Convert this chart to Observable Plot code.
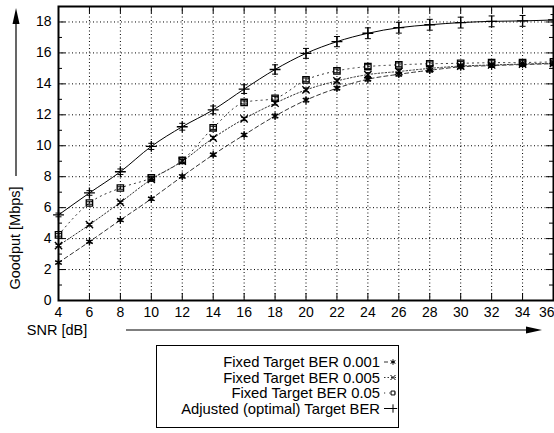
<!DOCTYPE html>
<html>
<head>
<meta charset="utf-8">
<script src="https://cdn.jsdelivr.net/npm/d3@7"></script>
<script src="https://cdn.jsdelivr.net/npm/@observablehq/plot@0.6"></script>
<style>
  html, body { margin: 0; padding: 0; background: white; }
  #wrap { position: relative; width: 554px; height: 433px; font-family: "Liberation Sans", Arial, sans-serif; }
  #legend { position: absolute; left: 156px; top: 345px; width: 243px; height: 83px; box-sizing: border-box; border: 1px solid black; background: white; }
</style>
</head>
<body>
<div id="wrap"><div id="chart"></div><div id="legend"></div></div>
<script>
const snr = [4, 6, 8, 10, 12, 14, 16, 18, 20, 22, 24, 26, 28, 30, 32, 34, 36];
const ber001 = [2.45, 3.8, 5.2, 6.57, 8.02, 9.42, 10.7, 11.92, 12.95, 13.72, 14.3, 14.62, 14.88, 15.1, 15.18, 15.25, 15.3];
const ber005 = [3.55, 4.9, 6.34, 7.83, 9.0, 10.5, 11.74, 12.75, 13.61, 14.19, 14.6, 14.8, 15.0, 15.15, 15.22, 15.28, 15.33];
const ber05  = [4.24, 6.3, 7.27, 7.92, 9.05, 11.16, 12.8, 13.07, 14.26, 14.84, 15.12, 15.23, 15.3, 15.33, 15.37, 15.38, 15.42];
const adjusted = [5.53, 6.95, 8.32, 9.96, 11.23, 12.32, 13.66, 14.93, 15.97, 16.73, 17.27, 17.63, 17.82, 17.96, 18.04, 18.07, 18.13];
const adjErr = [0.12, 0.15, 0.18, 0.2, 0.22, 0.25, 0.28, 0.3, 0.32, 0.33, 0.35, 0.35, 0.35, 0.35, 0.35, 0.35, 0.35];
const fixedErr = [0.08, 0.08, 0.08, 0.1, 0.1, 0.1, 0.1, 0.12, 0.12, 0.12, 0.12, 0.12, 0.12, 0.12, 0.12, 0.12, 0.12];
const seriesNames = ["Fixed Target BER 0.001", "Fixed Target BER 0.005", "Fixed Target BER 0.05", "Adjusted (optimal) Target BER"];
const xTicks = [4, 6, 8, 10, 12, 14, 16, 18, 20, 22, 24, 26, 28, 30, 32, 34, 36];
const yTicks = [0, 2, 4, 6, 8, 10, 12, 14, 16, 18];
const yMinor = [1, 3, 5, 7, 9, 11, 13, 15, 17];

const seriesValues = [ber001, ber005, ber05, adjusted];
const seriesErr = [fixedErr, fixedErr, fixedErr, adjErr];
const styles = [
  {dash: "4,3", symbol: "asterisk", r: 3.6, lr: 2.6},
  {dash: "1.5,2", symbol: "times", r: 3.4, lr: 2.4},
  {dash: "1.2,4", symbol: "square", r: 3.6, lr: 2.2},
  {dash: null, symbol: "plus", r: 3.6, lr: 2.8}
];

const rows = [];
seriesNames.forEach((name, i) => {
  snr.forEach((s, j) => rows.push({series: name, snr: s, goodput: seriesValues[i][j], err: seriesErr[i][j]}));
});

const hbar = {draw(ctx, size) { const r = Math.sqrt(size / Math.PI); ctx.moveTo(-r, 0); ctx.lineTo(r, 0); }};

const W = 554, H = 345, mL = 58, mR = 1, mT = 6, mB = 45;
const innerH = H - mT - mB, innerW = W - mL - mR;

const marks = [
  Plot.ruleX(xTicks.slice(1, -1), {x: d => d, stroke: "black", strokeWidth: 1, strokeDasharray: "1,2.5"}),
  Plot.ruleY(yTicks.slice(1), {y: d => d, stroke: "black", strokeWidth: 1, strokeDasharray: "1,2.5"}),
  Plot.tickX(xTicks, {x: d => d, insetTop: innerH - 7, stroke: "black"}),
  Plot.tickX(xTicks, {x: d => d, insetBottom: innerH - 7, stroke: "black"}),
  Plot.tickY(yTicks, {y: d => d, insetRight: innerW - 7, stroke: "black"}),
  Plot.tickY(yTicks, {y: d => d, insetLeft: innerW - 7, stroke: "black"}),
  Plot.tickY(yMinor, {y: d => d, insetRight: innerW - 4, stroke: "black"}),
  Plot.tickY(yMinor, {y: d => d, insetLeft: innerW - 4, stroke: "black"}),
  Plot.axisX(xTicks, {tickSize: 0, tickPadding: 7, fontSize: 14, label: null}),
  Plot.axisY(yTicks, {tickSize: 0, tickPadding: 7, fontSize: 14, label: null})
];

seriesNames.forEach((name, i) => {
  const data = rows.filter(d => d.series === name);
  const st = styles[i];
  marks.push(Plot.line(data, {x: "snr", y: "goodput", stroke: i === 3 ? "black" : "#333", strokeWidth: 1, strokeDasharray: st.dash, curve: "monotone-x"}));
  marks.push(Plot.ruleX(data, {x: "snr", y1: d => d.goodput - d.err, y2: d => d.goodput + d.err, stroke: "black", strokeWidth: 1}));
  marks.push(Plot.dot(data, {x: "snr", y: d => d.goodput - d.err, symbol: hbar, r: 3, stroke: "black", strokeWidth: 1}));
  marks.push(Plot.dot(data, {x: "snr", y: d => d.goodput + d.err, symbol: hbar, r: 3, stroke: "black", strokeWidth: 1}));
  marks.push(Plot.dot(data, {x: "snr", y: "goodput", symbol: st.symbol, r: st.r, stroke: "black", fill: "none", strokeWidth: 1.3}));
});

marks.push(Plot.frame({stroke: "black", strokeWidth: 2}));

const plot = Plot.plot({
  width: W, height: H,
  marginLeft: mL, marginRight: mR, marginTop: mT, marginBottom: mB,
  style: {fontFamily: "'Liberation Sans', Arial, sans-serif", fontSize: "14px", background: "white", color: "black", overflow: "visible"},
  x: {domain: [4, 36]},
  y: {domain: [0, 19]},
  marks
});
document.getElementById("chart").appendChild(plot);

const svg = d3.select(plot);
const xl = svg.selectAll("g[aria-label='x-axis tick label'] text").nodes();
if (xl.length) d3.select(xl[xl.length - 1]).attr("text-anchor", "end").attr("dx", "1");

const ann = svg.append("g").attr("fill", "black").attr("stroke", "none")
  .style("font-family", "'Liberation Sans', Arial, sans-serif").style("font-size", "14.5px");
ann.append("text").attr("transform", "translate(20,238) rotate(-90)").attr("text-anchor", "middle").text("Goodput [Mbps]");
ann.append("line").attr("x1", 16).attr("x2", 16).attr("y1", 176).attr("y2", 22).attr("stroke", "black").attr("stroke-width", 1.2);
ann.append("path").attr("d", "M16,8 L12.5,24 L19.5,24 Z");
ann.append("text").attr("x", 57).attr("y", 335).text("SNR [dB]");
ann.append("line").attr("x1", 126).attr("x2", 528).attr("y1", 330).attr("y2", 330).attr("stroke", "black").attr("stroke-width", 1.2);
ann.append("path").attr("d", "M542,330 L526,326.5 L526,333.5 Z");

const lg = d3.select("#legend").append("svg").attr("width", 241).attr("height", 81)
  .style("font-family", "'Liberation Sans', Arial, sans-serif").style("font-size", "14.8px");
seriesNames.forEach((name, i) => {
  const y = 16 + i * 15.5;
  const st = styles[i];
  lg.append("text").attr("x", 223).attr("y", y).attr("dy", "0.35em").attr("text-anchor", "end").text(name);
  lg.append("line").attr("x1", 227).attr("x2", 240).attr("y1", y).attr("y2", y)
    .attr("stroke", i === 3 ? "black" : "#333").attr("stroke-dasharray", st.dash);
  const sym = {asterisk: d3.symbolAsterisk, times: d3.symbolTimes, square: d3.symbolSquare, plus: d3.symbolPlus}[st.symbol];
  lg.append("path").attr("d", d3.symbol(sym, st.lr * st.lr * Math.PI)()).attr("transform", `translate(236,${y})`)
    .attr("fill", "none").attr("stroke", "black").attr("stroke-width", 1);
});
</script>
</body>
</html>
